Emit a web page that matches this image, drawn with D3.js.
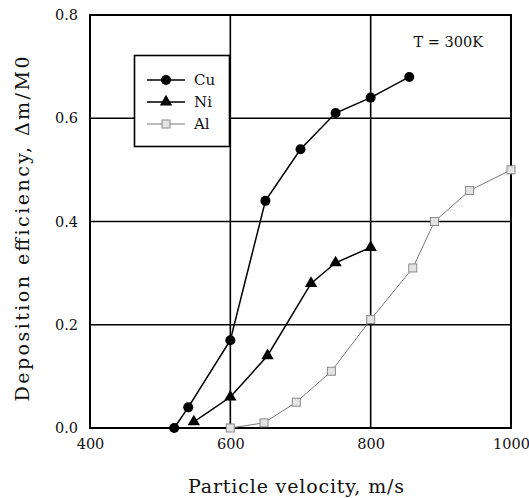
<!DOCTYPE html>
<html>
<head>
<meta charset="utf-8">
<script src="https://cdn.jsdelivr.net/npm/d3@7"></script>
<style>
  body { margin: 0; background: #fff; }
  text { font-family: "DejaVu Serif", "Liberation Serif", serif; fill: #111; }
</style>
</head>
<body>
<div id="chart"></div>
<script>
// data
const cuX = [520, 540, 600, 650, 700, 750, 800, 855];
const cuY = [0.0, 0.04, 0.17, 0.44, 0.54, 0.61, 0.64, 0.68];
const niX = [548, 600, 653, 715, 750, 800];
const niY = [0.012, 0.06, 0.14, 0.28, 0.32, 0.35];
const alX = [600, 648, 694, 744, 800, 860, 891, 941, 1000];
const alY = [0.0, 0.01, 0.05, 0.11, 0.21, 0.31, 0.40, 0.46, 0.50];
const xTicks = [400, 600, 800, 1000];
const yTicks = [0.0, 0.2, 0.4, 0.6, 0.8];

const width = 529, height = 498;
const margin = {top: 15, right: 18, bottom: 70, left: 90};

const svg = d3.select("#chart").append("svg")
  .attr("width", width).attr("height", height);

const x = d3.scaleLinear().domain([400, 1000]).range([margin.left, width - margin.right]);
const y = d3.scaleLinear().domain([0, 0.8]).range([height - margin.bottom, margin.top]);

// grid
svg.append("g").selectAll("line").data(xTicks.slice(1, -1)).join("line")
  .attr("x1", d => x(d)).attr("x2", d => x(d))
  .attr("y1", y(0)).attr("y2", y(0.8))
  .attr("stroke", "#000").attr("stroke-width", 1.6);
svg.append("g").selectAll("line").data(yTicks.slice(1, -1)).join("line")
  .attr("y1", d => y(d)).attr("y2", d => y(d))
  .attr("x1", x(400)).attr("x2", x(1000))
  .attr("stroke", "#000").attr("stroke-width", 1.6);

// axes (labels only)
const xAxis = svg.append("g")
  .attr("transform", `translate(0,${y(0)})`)
  .call(d3.axisBottom(x).tickValues(xTicks).tickSize(0).tickPadding(11).tickFormat(d3.format("d")));
const yAxis = svg.append("g")
  .attr("transform", `translate(${x(400)},0)`)
  .call(d3.axisLeft(y).tickValues(yTicks).tickSize(0).tickPadding(12).tickFormat(d3.format(".1f")));
[xAxis, yAxis].forEach(g => {
  g.select(".domain").remove();
  g.selectAll("text").style("font-family", '"DejaVu Serif", serif').style("font-size", "14.5px").attr("fill", "#111");
});

// frame
svg.append("rect")
  .attr("x", x(400)).attr("y", y(0.8))
  .attr("width", x(1000) - x(400)).attr("height", y(0) - y(0.8))
  .attr("fill", "none").attr("stroke", "#000").attr("stroke-width", 2);

// axis titles
svg.append("text")
  .attr("x", 296).attr("y", 493)
  .attr("text-anchor", "middle").style("font-size", "19px")
  .attr("textLength", 216).attr("lengthAdjust", "spacing")
  .text("Particle velocity, m/s");
svg.append("text")
  .attr("transform", `translate(29,229) rotate(-90)`)
  .attr("text-anchor", "middle").style("font-size", "19px")
  .attr("textLength", 345).attr("lengthAdjust", "spacing")
  .text("Deposition efficiency, \u0394m/M0");

svg.append("text")
  .attr("x", 483).attr("y", 47).attr("text-anchor", "end").style("font-size", "14.5px")
  .text("T = 300K");

const line = d3.line().x(d => x(d[0])).y(d => y(d[1]));
const cu = d3.zip(cuX, cuY), ni = d3.zip(niX, niY), al = d3.zip(alX, alY);

// Al (thin grey)
svg.append("path").datum(al).attr("d", line)
  .attr("fill", "none").attr("stroke", "#6a6a6a").attr("stroke-width", 0.9);
// Ni
svg.append("path").datum(ni).attr("d", line)
  .attr("fill", "none").attr("stroke", "#000").attr("stroke-width", 1.5);
// Cu
svg.append("path").datum(cu).attr("d", line)
  .attr("fill", "none").attr("stroke", "#000").attr("stroke-width", 1.5);

const sq = 8;
svg.append("g").selectAll("rect").data(al).join("rect")
  .attr("x", d => x(d[0]) - sq / 2).attr("y", d => y(d[1]) - sq / 2)
  .attr("width", sq).attr("height", sq)
  .attr("fill", "#e4e4e4").attr("stroke", "#8a8a8a").attr("stroke-width", 1);

const tri = d3.symbol().type(d3.symbolTriangle).size(66);
svg.append("g").selectAll("path").data(ni).join("path")
  .attr("transform", d => `translate(${x(d[0])},${y(d[1])})`)
  .attr("d", tri).attr("fill", "#000");

svg.append("g").selectAll("circle").data(cu).join("circle")
  .attr("cx", d => x(d[0])).attr("cy", d => y(d[1])).attr("r", 5)
  .attr("fill", "#000");

// legend
const lg = svg.append("g");
lg.append("rect").attr("x", 134.5).attr("y", 55.5).attr("width", 95).attr("height", 91)
  .attr("fill", "#fff").attr("stroke", "#000").attr("stroke-width", 1.6);
const items = [
  {name: "Cu", yy: 80, kind: "circle"},
  {name: "Ni", yy: 102, kind: "tri"},
  {name: "Al", yy: 124, kind: "sq"}
];
items.forEach(it => {
  lg.append("line").attr("x1", 147).attr("x2", 185).attr("y1", it.yy).attr("y2", it.yy)
    .attr("stroke", it.kind === "sq" ? "#6a6a6a" : "#000")
    .attr("stroke-width", it.kind === "sq" ? 0.9 : 1.5);
  if (it.kind === "circle") {
    lg.append("circle").attr("cx", 166).attr("cy", it.yy).attr("r", 5).attr("fill", "#000");
  } else if (it.kind === "tri") {
    lg.append("path").attr("transform", `translate(166,${it.yy})`).attr("d", tri).attr("fill", "#000");
  } else {
    lg.append("rect").attr("x", 166 - sq / 2).attr("y", it.yy - sq / 2).attr("width", sq).attr("height", sq)
      .attr("fill", "#e4e4e4").attr("stroke", "#8a8a8a").attr("stroke-width", 1);
  }
  lg.append("text").attr("x", 194).attr("y", it.yy + 5).style("font-size", "15px").text(it.name);
});
</script>
</body>
</html>
